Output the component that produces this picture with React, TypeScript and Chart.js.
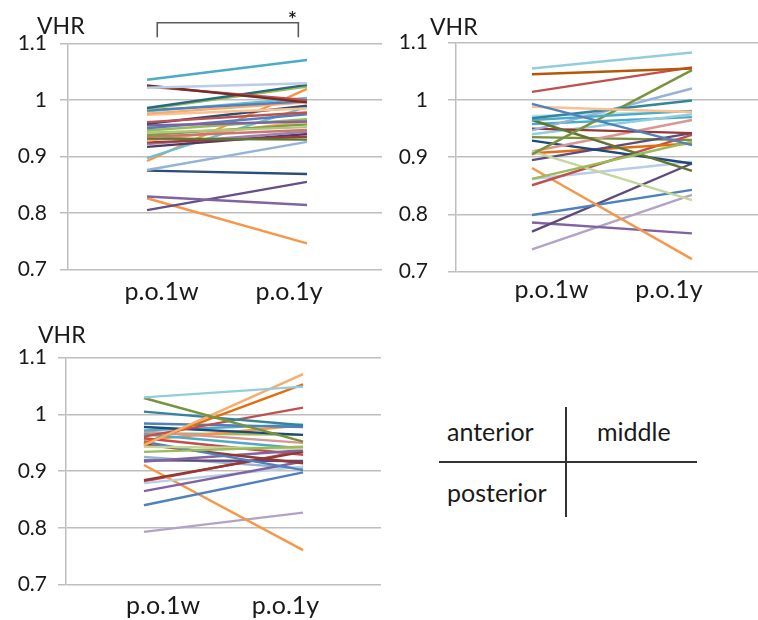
import React, { useEffect, useRef } from 'react';
import { Chart, registerables } from 'chart.js';

Chart.register(...registerables);

const FONT = 'Lato, "Open Sans", sans-serif';

// ---- shared labels ----
const xLabels = ['p.o.1w', 'p.o.1y'];
const yTicks = [0.7, 0.8, 0.9, 1.0, 1.1];
const yTitle = 'VHR';
const regionLabels = ['anterior', 'middle', 'posterior'];

// ---- anterior ----
const anteriorWeek = [
  1.036, 1.022, 1.026, 1.024, 0.986, 0.984, 0.982, 0.980, 0.976, 0.974,
  0.961, 0.958, 0.955, 0.950, 0.946, 0.942, 0.938, 0.935, 0.932, 0.928,
  0.925, 0.922, 0.917, 0.897, 0.892, 0.876, 0.875, 0.829, 0.805, 0.826,
];
const anteriorYear = [
  1.071, 1.030, 0.996, 1.000, 1.027, 1.024, 0.998, 1.004, 0.996, 0.985,
  0.978, 0.990, 0.962, 0.975, 0.966, 0.952, 0.957, 0.947, 0.930, 0.962,
  0.935, 0.944, 0.940, 0.988, 1.020, 0.926, 0.869, 0.814, 0.855, 0.746,
];
const anteriorColors = [
  '#4BACC6', '#B9CDE5', '#772C2A', '#C0504D', '#276A7C', '#9BBB59', '#4F81BD', '#6FBDD1', '#F9AB6B', '#FAC090',
  '#C0504D', '#2C4D75', '#8064A2', '#4F81BD', '#9BBB59', '#AFC97A', '#7E9D40', '#CD7371', '#5F7530', '#F9AB6B',
  '#9F3B38', '#9983B5', '#4D3B62', '#6FBDD1', '#F79646', '#95B3D7', '#2C4D75', '#8064A2', '#664F85', '#F79646',
];

// ---- middle ----
const middleWeek = [
  1.055, 1.045, 1.014, 0.993, 0.988, 0.968, 0.965, 0.905, 0.862, 0.965,
  0.910, 0.947, 0.950, 0.910, 0.929, 0.895, 0.907, 0.851, 0.862, 0.881,
  0.799, 0.770, 0.786, 0.739, 0.940, 0.958, 0.972, 0.935,
];
const middleYear = [
  1.083, 1.055, 1.057, 0.921, 0.979, 0.999, 0.981, 1.052, 0.927, 0.876,
  0.825, 1.020, 0.942, 0.965, 0.889, 0.942, 0.924, 0.939, 0.892, 0.722,
  0.843, 0.889, 0.767, 0.834, 0.975, 0.970, 0.980, 0.930,
];
const middleColors = [
  '#93CDDD', '#B65708', '#C0504D', '#4F81BD', '#FAC090', '#31859C', '#4BACC6', '#77933C', '#9BBB59', '#5F7530',
  '#C3D69B', '#95B3D7', '#953735', '#D99694', '#1F497D', '#604A7B', '#E46C0A', '#C0504D', '#B9CDE5', '#F79646',
  '#4F81BD', '#604A7B', '#8064A2', '#B3A2C7', '#93CDDD', '#4BACC6', '#B7DEE8', '#77933C',
];

// ---- posterior ----
const posteriorWeek = [
  1.030, 1.029, 0.946, 0.949, 1.005, 0.961, 0.984, 0.978, 0.972, 0.934,
  0.943, 0.952, 0.947, 0.917, 0.919, 0.884, 0.865, 0.879, 0.840, 0.911,
  0.793, 0.970, 0.965, 0.958, 0.955, 0.967, 0.882, 0.925,
];
const posteriorYear = [
  1.049, 0.952, 1.071, 1.053, 0.981, 1.012, 0.978, 0.964, 0.982, 0.943,
  0.940, 0.902, 0.914, 0.937, 0.918, 0.934, 0.917, 0.908, 0.898, 0.761,
  0.827, 0.950, 0.940, 0.929, 0.981, 0.964, 0.936, 0.905,
];
const posteriorColors = [
  '#93CDDD', '#77933C', '#F9AB6B', '#E46C0A', '#31859C', '#C0504D', '#4F81BD', '#1F497D', '#4BACC6', '#9BBB59',
  '#C3D69B', '#4F81BD', '#953735', '#8064A2', '#604A7B', '#953735', '#8064A2', '#B9CDE5', '#4F81BD', '#F79646',
  '#B3A2C7', '#D99694', '#4BACC6', '#C0504D', '#F79646', '#9BBB59', '#C0504D', '#95B3D7',
];

type Panel = {
  week: number[];
  year: number[];
  colors: string[];
  left: number; top: number; width: number; height: number;
  plotLeft: number; plotTop: number; plotRight: number; plotBottom: number;
  xMin: number; xMax: number; tickPos: number[];
  xPad: number; yPad: number;
  vhrDx: number; vhrDy: number;
  bracket?: { from: number; to: number };
};

const panels: Panel[] = [
  {
    week: anteriorWeek, year: anteriorYear, colors: anteriorColors,
    left: 0, top: 0, width: 385, height: 310,
    plotLeft: 68, plotTop: 43.7, plotRight: 382, plotBottom: 269.3,
    xMin: -0.494, xMax: 1.469, tickPos: [0.091, 0.888],
    xPad: 7.5, yPad: 13, vhrDx: -31, vhrDy: -10.2,
    bracket: { from: 0.064, to: 0.946 },
  },
  {
    week: middleWeek, year: middleYear, colors: middleColors,
    left: 380, top: 0, width: 378, height: 310,
    plotLeft: 456, plotTop: 42.7, plotRight: 758, plotBottom: 271.7,
    xMin: -0.475, xMax: 1.413, tickPos: [0.123, 0.856],
    xPad: 3, yPad: 20, vhrDx: -26, vhrDy: -7.7,
  },
  {
    week: posteriorWeek, year: posteriorYear, colors: posteriorColors,
    left: 0, top: 310, width: 385, height: 310,
    plotLeft: 66, plotTop: 357.7, plotRight: 381, plotBottom: 584.7,
    xMin: -0.49, xMax: 1.49, tickPos: [0.12, 0.89],
    xPad: 6.5, yPad: 11, vhrDx: -28, vhrDy: -14.4,
  },
];

const GRID = '#bebebe';
const TEXT = '#1a1a1a';

function PanelChart({ p }: { p: Panel }) {
  const ref = useRef<HTMLCanvasElement | null>(null);
  useEffect(() => {
    if (!ref.current) return;
    const datasets = p.week.map((w, i) => ({
      data: [{ x: 0, y: w }, { x: 1, y: p.year[i] }],
      borderColor: p.colors[i],
      backgroundColor: p.colors[i],
      borderWidth: 2.4,
      pointRadius: 0,
      tension: 0,
      fill: false,
    }));
    const yAxisWidth = p.plotLeft - p.left;
    const xAxisHeight = p.top + p.height - p.plotBottom;
    const extras = {
      id: 'extras',
      afterDraw(c: any) {
        const ctx = c.ctx as CanvasRenderingContext2D;
        const { left, top } = c.chartArea;
        ctx.save();
        ctx.fillStyle = TEXT;
        ctx.font = `23px ${FONT}`;
        ctx.textBaseline = 'alphabetic';
        ctx.textAlign = 'left';
        ctx.fillText(yTitle, left + p.vhrDx, top + p.vhrDy);
        if (p.bracket) {
          const xs = c.scales.x;
          const x1 = xs.getPixelForValue(p.bracket.from);
          const x2 = xs.getPixelForValue(p.bracket.to);
          const yTop = top - 21;
          const yBot = top - 6.4;
          ctx.strokeStyle = '#5a5a5a';
          ctx.lineWidth = 1.6;
          ctx.beginPath();
          ctx.moveTo(x1, yBot);
          ctx.lineTo(x1, yTop);
          ctx.lineTo(x2, yTop);
          ctx.lineTo(x2, yBot);
          ctx.stroke();
          ctx.font = `bold 21px ${FONT}`;
          ctx.textAlign = 'center';
          ctx.fillStyle = '#222222';
          ctx.fillText('*', x2 - 6, top - 16.5);
        }
        ctx.restore();
      },
    };
    const chart = new Chart(ref.current, {
      type: 'line',
      data: { datasets },
      options: {
        animation: false,
        responsive: false,
        maintainAspectRatio: false,
        events: [],
        layout: {
          padding: {
            top: p.plotTop - p.top,
            right: p.left + p.width - p.plotRight,
            left: 0,
            bottom: 0,
          },
        },
        plugins: {
          legend: { display: false },
          tooltip: { enabled: false },
          title: { display: false },
        },
        scales: {
          x: {
            type: 'linear',
            min: p.xMin,
            max: p.xMax,
            grid: { display: false, drawTicks: false },
            border: { display: false },
            afterBuildTicks: (s: any) => {
              s.ticks = p.tickPos.map((v) => ({ value: v }));
            },
            afterFit: (s: any) => {
              s.height = xAxisHeight;
            },
            ticks: {
              autoSkip: false,
              maxRotation: 0,
              minRotation: 0,
              padding: p.xPad,
              color: TEXT,
              font: { family: FONT, size: 25 },
              callback: (_v: any, i: number) => xLabels[i],
            },
          },
          y: {
            type: 'linear',
            min: 0.7,
            max: 1.1,
            afterBuildTicks: (s: any) => {
              s.ticks = yTicks.map((v) => ({ value: v }));
            },
            afterFit: (s: any) => {
              s.width = yAxisWidth;
            },
            grid: { color: GRID, lineWidth: 1.5, tickLength: 8, tickColor: GRID, drawTicks: true },
            border: { display: true, color: GRID, width: 1.5 },
            ticks: {
              padding: p.yPad,
              color: TEXT,
              font: { family: FONT, size: 21 },
              callback: (v: any) => String(Number(Number(v).toFixed(1))),
            },
          },
        },
      } as any,
      plugins: [extras],
    });
    return () => chart.destroy();
  }, [p]);
  return (
    <canvas
      ref={ref}
      width={p.width}
      height={p.height}
      style={{ position: 'absolute', left: p.left, top: p.top, width: p.width, height: p.height }}
    />
  );
}

const textStyle: React.CSSProperties = {
  position: 'absolute',
  fontFamily: FONT,
  fontSize: 25,
  lineHeight: '25px',
  color: TEXT,
  whiteSpace: 'nowrap',
};

export default function App() {
  return (
    <div
      style={{
        position: 'absolute',
        left: 0,
        top: 0,
        width: 758,
        height: 620,
        overflow: 'hidden',
        background: '#ffffff',
      }}
    >
      {panels.map((p, i) => (
        <PanelChart key={i} p={p} />
      ))}
      <div style={{ ...textStyle, left: 447, top: 418.5 }}>{regionLabels[0]}</div>
      <div style={{ ...textStyle, left: 597, top: 418.5 }}>{regionLabels[1]}</div>
      <div style={{ ...textStyle, left: 447, top: 479.5 }}>{regionLabels[2]}</div>
      <div style={{ position: 'absolute', left: 439, top: 461, width: 258, height: 1.5, background: '#333333' }} />
      <div style={{ position: 'absolute', left: 565, top: 407, width: 1.5, height: 110, background: '#333333' }} />
    </div>
  );
}
